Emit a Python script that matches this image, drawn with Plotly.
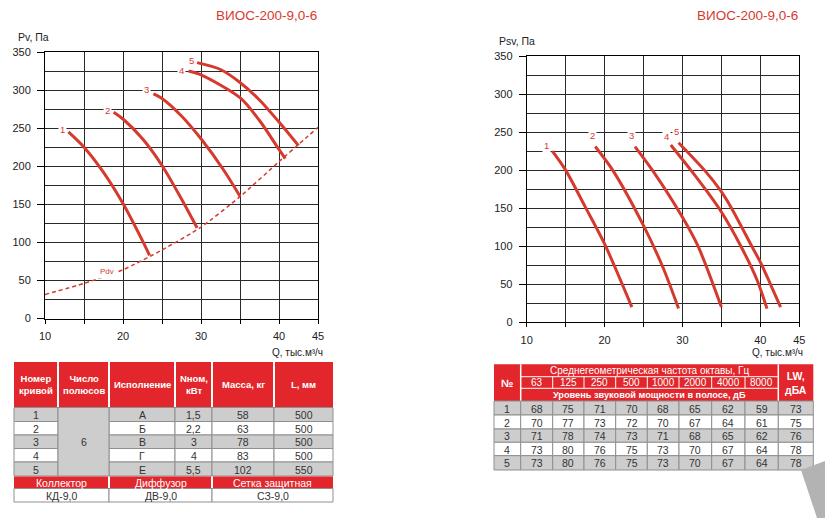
import plotly.graph_objects as go

# ---------------- data ----------------
title_text = "ВИОС-200-9,0-6"
curve_names = ["1", "2", "3", "4", "5"]

# Pv (left chart)
pv_q = [
    [13.0, 15.0, 17.5, 20.0, 22.6, 23.4],
    [18.8, 20.0, 22.5, 25.0, 27.5, 29.5],
    [23.9, 25.0, 27.5, 30.0, 32.9, 35.0],
    [28.4, 30.0, 35.0, 37.5, 40.0, 40.8],
    [29.5, 32.5, 35.0, 37.5, 40.0, 42.5],
]
pv_p = [
    [245, 225, 192, 151, 100, 83],
    [271, 262, 236, 201, 157, 119],
    [295, 289, 266, 236, 195, 160.5],
    [325, 320, 290, 260, 222, 210],
    [336, 327, 310, 287, 258, 227],
]
pdv_q = [10, 15, 20, 25, 30, 35, 40, 45]
pdv_p = [31.5, 46, 64, 90, 120, 160, 206, 251]

# Psv (right chart)
psv_q = [
    [13.3, 15.0, 17.5, 20.0, 23.5],
    [18.8, 21.1, 25.0, 27.5, 29.5],
    [23.9, 26.2, 30.0, 32.0, 35.0],
    [28.5, 31.15, 33.0, 35.0, 37.5, 39.6, 40.85],
    [29.5, 32.9, 34.9, 36.3, 38.9, 40.0, 41.3, 42.6],
]
psv_p = [
    [225, 200, 152, 103, 20],
    [231, 199, 127, 72, 18],
    [231, 199, 138, 100, 20],
    [233, 199, 174, 145, 100, 55, 18],
    [236, 199, 173, 150, 100, 79, 50, 20],
]

x_tickvals = [10, 15, 20, 25, 30, 35, 40, 45]
x_ticktext = ["10", "", "20", "", "30", "", "40", "45"]

# table 1
t1_header = ["Номер<br>кривой", "Число<br>полюсов", "Исполнение", "Nном,<br>кВт", "Масса, кг", "L, мм"]
t1_curve = ["1", "2", "3", "4", "5"]
t1_poles = "6"
t1_version = ["А", "Б", "В", "Г", "Е"]
t1_power = ["1,5", "2,2", "3", "4", "5,5"]
t1_mass = ["58", "63", "78", "83", "102"]
t1_length = ["500", "500", "500", "500", "550"]
acc_header = ["Коллектор", "Диффузор", "Сетка защитная"]
acc_value = ["КД-9,0", "ДВ-9,0", "СЗ-9,0"]

# table 2
t2_freq_title = "Среднегеометрическая частота октавы, Гц"
t2_level_title = "Уровень звуковой мощности в полосе, дБ"
t2_freqs = ["63", "125", "250", "500", "1000", "2000", "4000", "8000"]
t2_levels = [
    [68, 75, 71, 70, 68, 65, 62, 59],
    [70, 77, 73, 72, 70, 67, 64, 61],
    [71, 78, 74, 73, 71, 68, 65, 62],
    [73, 80, 76, 75, 73, 70, 67, 64],
    [73, 80, 76, 75, 73, 70, 67, 64],
]
t2_lw = [73, 75, 76, 78, 78]

# ---------------- styles ----------------
W, H = 825, 518
RED = "#d63a2f"
HDR = "#e2262b"
GRAY = "#cdcdcd"
BORDER = "#8f8f8f"
GRID = "#2a2a2a"
TXT = "#333333"
FONT = "Liberation Sans Narrow, Arial Narrow, Liberation Sans, Arial, sans-serif"


def px(x):
    return x / W


def py(y):
    return 1 - y / H


fig = go.Figure()

# ---- curves ----
for i in range(5):
    fig.add_trace(go.Scatter(x=pv_q[i], y=pv_p[i], mode="lines",
                             line=dict(color=RED, width=3, shape="spline", smoothing=0.8),
                             xaxis="x", yaxis="y", hoverinfo="skip", showlegend=False))
fig.add_trace(go.Scatter(x=pdv_q, y=pdv_p, mode="lines",
                         line=dict(color=RED, width=1.5, dash="4px,3px", shape="spline", smoothing=0.6),
                         xaxis="x", yaxis="y", hoverinfo="skip", showlegend=False))
for i in range(5):
    fig.add_trace(go.Scatter(x=psv_q[i], y=psv_p[i], mode="lines",
                             line=dict(color=RED, width=3, shape="spline", smoothing=0.8),
                             xaxis="x2", yaxis="y2", hoverinfo="skip", showlegend=False))

annotations = []

# curve labels
left_shift = [(-6, 2), (-6, 2), (-7, 4), (-7, 1), (-6, 2)]
right_shift = [(-6, 6), (-3, 11), (-3, 11), (-4, 9), (-2, 11)]
for i, name in enumerate(curve_names):
    annotations.append(dict(x=pv_q[i][0], y=pv_p[i][0], xref="x", yref="y", text=name,
                            showarrow=False, xshift=left_shift[i][0], yshift=left_shift[i][1],
                            font=dict(family=FONT, size=9.5, color=RED), bgcolor="white", borderpad=1))
    annotations.append(dict(x=psv_q[i][0], y=psv_p[i][0], xref="x2", yref="y2", text=name,
                            showarrow=False, xshift=right_shift[i][0], yshift=right_shift[i][1],
                            font=dict(family=FONT, size=9.5, color=RED), bgcolor="white", borderpad=1))
annotations.append(dict(x=17.9, y=62, xref="x", yref="y", text="Pdv", showarrow=False,
                        font=dict(family=FONT, size=8, color=RED), bgcolor="white", borderpad=2))


def ptext(x, y, text, size=12, color=TXT, xanchor="center"):
    annotations.append(dict(x=px(x), y=py(y), xref="paper", yref="paper", text=text,
                            showarrow=False, xanchor=xanchor, yanchor="middle",
                            font=dict(family=FONT, size=size, color=color)))


# titles and axis titles
ptext(319, 15, title_text, 13.5, RED, "right")
ptext(800, 15, title_text, 13.5, RED, "right")
ptext(16, 37, "Pv, Па", 10.5, "#222", "left")
ptext(497, 41, "Psv, Па", 10.5, "#222", "left")
ptext(325, 352, "Q, тыс.м³/ч", 10, "#222", "right")
ptext(805, 352, "Q, тыс.м³/ч", 10, "#222", "right")

shapes = []


def prect(x0, y0, x1, y1, fill, line=None, lw=1):
    shapes.append(dict(type="rect", xref="paper", yref="paper",
                       x0=px(x0), x1=px(x1), y0=py(y1), y1=py(y0),
                       fillcolor=fill, line=dict(color=line if line else fill, width=lw if line else 0),
                       layer="above"))


def pline(x0, y0, x1, y1, color, w=1):
    shapes.append(dict(type="line", xref="paper", yref="paper",
                       x0=px(x0), x1=px(x1), y0=py(y0), y1=py(y1),
                       line=dict(color=color, width=w), layer="above"))


# ---------------- table 1 ----------------
c1 = [14, 58, 109, 175, 212, 274, 333]
r1 = [407.5, 421.5, 435, 448.5, 462, 476]
prect(c1[0], 362, c1[-1], 407.5, HDR)
for e in c1[1:-1]:
    pline(e, 362, e, 407.5, "white", 2)
for c, t in enumerate(t1_header):
    ptext((c1[c] + c1[c + 1]) / 2, 384.5, "<b>" + t + "</b>", 9.5, "white")
cols1 = [t1_curve, None, t1_version, t1_power, t1_mass, t1_length]
for r in range(5):
    fill = GRAY if r % 2 == 0 else "white"
    for c in range(6):
        if c == 1:
            continue
        prect(c1[c], r1[r], c1[c + 1], r1[r + 1], fill, BORDER, 1)
        ptext((c1[c] + c1[c + 1]) / 2, (r1[r] + r1[r + 1]) / 2 + 0.5, cols1[c][r], 10.5)
prect(c1[1], r1[0], c1[2], r1[5], GRAY, BORDER, 1)
ptext((c1[1] + c1[2]) / 2, (r1[0] + r1[5]) / 2, t1_poles, 10.5)

fc = [14, 109, 212, 333]
prect(fc[0], 476.5, fc[-1], 488.5, HDR)
for e in fc[1:-1]:
    pline(e, 476.5, e, 488.5, "white", 2)
for c in range(3):
    ptext((fc[c] + fc[c + 1]) / 2, 482.5, acc_header[c], 10.5, "white")
    prect(fc[c], 488.5, fc[c + 1], 502, "white", BORDER, 1)
    ptext((fc[c] + fc[c + 1]) / 2, 495.5, acc_value[c], 10.5)

# ---------------- table 2 ----------------
c2 = [494, 520.7, 552.7, 584, 615.7, 647.3, 679, 711.7, 745, 778.3, 813.3]
h2 = [364.3, 376.7, 388.3, 401]
r2 = [401, 415, 429, 442.3, 455.7, 470]
prect(c2[0], h2[0], c2[-1], h2[-1], HDR)
pline(c2[1], h2[0], c2[1], h2[-1], "white", 1.5)
pline(c2[9], h2[0], c2[9], h2[-1], "white", 1.5)
pline(c2[1], h2[1], c2[9], h2[1], "white", 1)
pline(c2[1], h2[2], c2[9], h2[2], "white", 1)
for e in c2[2:9]:
    pline(e, h2[1], e, h2[2], "white", 1)
ptext((c2[0] + c2[1]) / 2, (h2[0] + h2[3]) / 2, "<b>№</b>", 11, "white")
ptext((c2[9] + c2[10]) / 2, (h2[0] + h2[3]) / 2, "<b>LW,<br>дБА</b>", 10.5, "white")
ptext((c2[1] + c2[9]) / 2, (h2[0] + h2[1]) / 2, t2_freq_title, 10, "white")
ptext((c2[1] + c2[9]) / 2, (h2[2] + h2[3]) / 2, "<b>" + t2_level_title + "</b>", 9.2, "white")
for k, f in enumerate(t2_freqs):
    ptext((c2[k + 1] + c2[k + 2]) / 2, (h2[1] + h2[2]) / 2, f, 10, "white")
for r in range(5):
    fill = GRAY if r % 2 == 0 else "white"
    vals = [str(r + 1)] + [str(v) for v in t2_levels[r]] + [str(t2_lw[r])]
    for c in range(10):
        prect(c2[c], r2[r], c2[c + 1], r2[r + 1], fill, BORDER, 1)
        ptext((c2[c] + c2[c + 1]) / 2, (r2[r] + r2[r + 1]) / 2 + 0.5, vals[c], 10.5)

# decorative gray page corner
shapes.append(dict(type="path", xref="paper", yref="paper",
                   path=f"M {px(801)} {py(470)} L {px(825)} {py(461)} L {px(825)} {py(518)} L {px(817)} {py(518)} Z",
                   fillcolor="#b3b3b3", line=dict(width=0), layer="above"))


def xaxis_cfg(domain, anchor):
    return dict(domain=domain, anchor=anchor, range=[10, 45], tickmode="array",
                tickvals=x_tickvals, ticktext=x_ticktext, showgrid=True, gridcolor=GRID,
                gridwidth=1, showline=True, linecolor="black", linewidth=1, mirror=True,
                ticks="outside", ticklen=4, tickcolor="black", zeroline=False, automargin=False,
                ticklabelstandoff=3,
                tickfont=dict(family=FONT, size=11, color="#222"), fixedrange=True)


def yaxis_cfg(domain, anchor):
    return dict(domain=domain, anchor=anchor, range=[0, 350], tick0=0, dtick=50,
                showgrid=True, gridcolor=GRID, gridwidth=1,
                minor=dict(dtick=25, tick0=0, showgrid=True, gridcolor=GRID, gridwidth=1),
                showline=True, linecolor="black", linewidth=1, mirror=True,
                ticks="outside", ticklen=7, tickcolor="black", zeroline=False, automargin=False,
                ticklabelstandoff=4,
                tickfont=dict(family=FONT, size=11, color="#222"), fixedrange=True)


fig.update_layout(
    width=W, height=H, margin=dict(l=0, r=0, t=0, b=0, pad=0, autoexpand=False),
    paper_bgcolor="white", plot_bgcolor="white", showlegend=False,
    xaxis=xaxis_cfg([px(45), px(318)], "y"),
    yaxis=yaxis_cfg([py(318.5), py(52)], "x"),
    xaxis2=xaxis_cfg([px(526.7), px(799.3)], "y2"),
    yaxis2=yaxis_cfg([py(322.3), py(56)], "x2"),
    annotations=annotations, shapes=shapes,
)

fig.write_html("out.html", config={"displayModeBar": False},
               post_script="document.body.style.margin='0px';")
